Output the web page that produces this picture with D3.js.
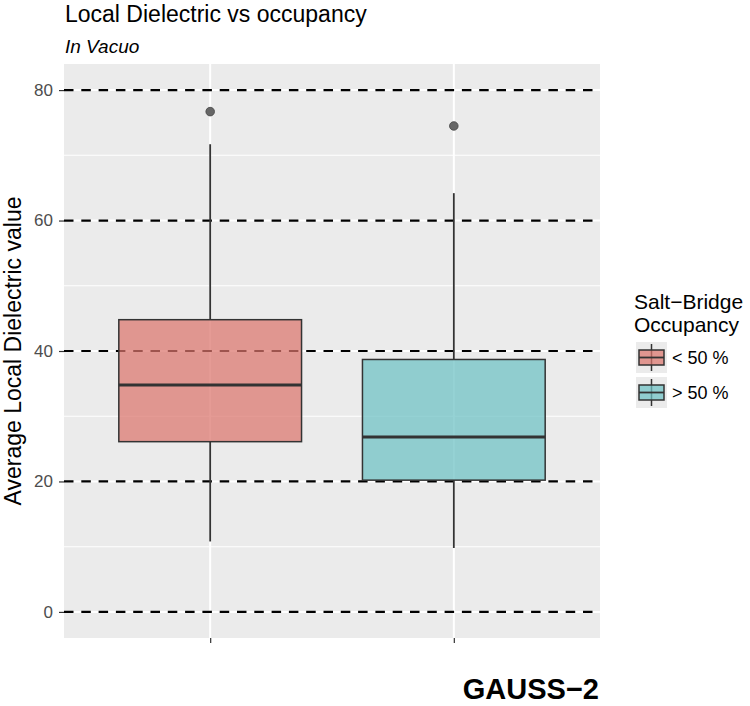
<!DOCTYPE html>
<html>
<head>
<meta charset="utf-8">
<script src="https://cdn.jsdelivr.net/npm/d3@7/dist/d3.min.js"></script>
<style>
  body { margin: 0; background: #ffffff; }
  svg { display: block; font-family: "Liberation Sans", Arial, Helvetica, sans-serif; }
</style>
</head>
<body>
<svg id="chart" width="750" height="706"></svg>
<script>
// ---- data ----
var groups = ["< 50 %", "> 50 %"];
var lowerWhisker = [10.8, 9.8];
var q1 = [26.1, 20.2];
var median = [34.8, 26.8];
var q3 = [44.8, 38.7];
var upperWhisker = [71.7, 64.2];
var outliers = [[76.7], [74.5]];
var hlines = [0, 20, 40, 60, 80];
var yTicks = [0, 20, 40, 60, 80];
var yMinor = [10, 30, 50, 70];
var fills = ["#db746c", "#6cc0c4"];

var width = 750, height = 706;
var panel = { left: 64, right: 600, top: 64, bottom: 638 };

var svg = d3.select("#chart");

var y = d3.scaleLinear().domain([-4, 84]).range([panel.bottom, panel.top]);
var x = d3.scalePoint().domain(groups).range([panel.left, panel.right]).padding(0.6);
var boxW = x.step() * 0.75;

// panel background
svg.append("rect")
    .attr("x", panel.left).attr("y", panel.top)
    .attr("width", panel.right - panel.left)
    .attr("height", panel.bottom - panel.top)
    .attr("fill", "#ebebeb");

var grid = svg.append("g").attr("class", "grid");

grid.selectAll("line.minor")
    .data(yMinor)
  .enter().append("line")
    .attr("class", "minor")
    .attr("x1", panel.left).attr("x2", panel.right)
    .attr("y1", function(d) { return y(d); })
    .attr("y2", function(d) { return y(d); })
    .style("stroke", "#ffffff").style("stroke-width", 1.1);

grid.selectAll("line.majorY")
    .data(yTicks)
  .enter().append("line")
    .attr("class", "majorY")
    .attr("x1", panel.left).attr("x2", panel.right)
    .attr("y1", function(d) { return y(d); })
    .attr("y2", function(d) { return y(d); })
    .style("stroke", "#ffffff").style("stroke-width", 2);

grid.selectAll("line.majorX")
    .data(groups)
  .enter().append("line")
    .attr("class", "majorX")
    .attr("y1", panel.top).attr("y2", panel.bottom)
    .attr("x1", function(d) { return x(d); })
    .attr("x2", function(d) { return x(d); })
    .style("stroke", "#ffffff").style("stroke-width", 2);

// dashed reference lines
svg.append("g").selectAll("line")
    .data(hlines)
  .enter().append("line")
    .attr("x1", panel.left).attr("x2", panel.right)
    .attr("y1", function(d) { return y(d); })
    .attr("y2", function(d) { return y(d); })
    .style("stroke", "#000000")
    .style("stroke-width", 2.2)
    .style("stroke-dasharray", "9.5,7.8");

// boxplots
var boxes = svg.append("g").selectAll("g.box")
    .data(groups)
  .enter().append("g")
    .attr("class", "box");

boxes.append("line")
    .attr("x1", function(d) { return x(d); })
    .attr("x2", function(d) { return x(d); })
    .attr("y1", function(d, i) { return y(upperWhisker[i]); })
    .attr("y2", function(d, i) { return y(q3[i]); })
    .style("stroke", "#333333").style("stroke-width", 1.8);

boxes.append("line")
    .attr("x1", function(d) { return x(d); })
    .attr("x2", function(d) { return x(d); })
    .attr("y1", function(d, i) { return y(q1[i]); })
    .attr("y2", function(d, i) { return y(lowerWhisker[i]); })
    .style("stroke", "#333333").style("stroke-width", 1.8);

boxes.append("rect")
    .attr("x", function(d) { return x(d) - boxW / 2; })
    .attr("width", boxW)
    .attr("y", function(d, i) { return y(q3[i]); })
    .attr("height", function(d, i) { return y(q1[i]) - y(q3[i]); })
    .style("fill", function(d, i) { return fills[i]; })
    .style("fill-opacity", 0.72)
    .style("stroke", "#333333")
    .style("stroke-width", 1.5);

boxes.append("line")
    .attr("x1", function(d) { return x(d) - boxW / 2; })
    .attr("x2", function(d) { return x(d) + boxW / 2; })
    .attr("y1", function(d, i) { return y(median[i]); })
    .attr("y2", function(d, i) { return y(median[i]); })
    .style("stroke", "#333333").style("stroke-width", 3);

boxes.selectAll("circle")
    .data(function(d, i) { return outliers[i].map(function(v) { return { g: d, v: v }; }); })
  .enter().append("circle")
    .attr("cx", function(d) { return x(d.g); })
    .attr("cy", function(d) { return y(d.v); })
    .attr("r", 4.3)
    .style("fill", "#666666")
    .style("stroke", "#444444")
    .style("stroke-width", 0.8);

// axes
var yAxis = svg.append("g")
    .attr("transform", "translate(" + panel.left + ",0)")
    .call(d3.axisLeft(y).tickValues(yTicks).tickSize(5).tickPadding(6));
yAxis.select(".domain").remove();
yAxis.selectAll(".tick line").style("stroke", "#333333").style("stroke-width", 1.2);
yAxis.selectAll(".tick text")
    .style("fill", "#4d4d4d")
    .style("font-size", "17px")
    .style("font-family", "Liberation Sans, Arial, sans-serif");

var xAxis = svg.append("g")
    .attr("transform", "translate(0," + panel.bottom + ")")
    .call(d3.axisBottom(x).tickSize(5).tickFormat(""));
xAxis.select(".domain").remove();
xAxis.selectAll(".tick line").style("stroke", "#333333").style("stroke-width", 1.2);

// titles
svg.append("text")
    .attr("x", 65).attr("y", 22)
    .style("font-size", "23px")
    .text("Local Dielectric vs occupancy");

svg.append("text")
    .attr("x", 65).attr("y", 53)
    .style("font-size", "19px")
    .style("font-style", "italic")
    .text("In Vacuo");

svg.append("text")
    .attr("transform", "translate(21," + ((panel.top + panel.bottom) / 2) + ") rotate(-90)")
    .attr("text-anchor", "middle")
    .style("font-size", "23px")
    .text("Average Local Dielectric value");

svg.append("text")
    .attr("x", panel.right - 1).attr("y", 699)
    .attr("text-anchor", "end")
    .style("font-size", "29px")
    .style("font-weight", "bold")
    .text("GAUSS\u22122");

// legend
var legend = svg.append("g").attr("transform", "translate(634,0)");

legend.append("text")
    .attr("x", 0).attr("y", 309)
    .style("font-size", "21px")
    .text("Salt\u2212Bridge");
legend.append("text")
    .attr("x", 0).attr("y", 332)
    .style("font-size", "21px")
    .text("Occupancy");

var keySize = 31;
var keys = legend.selectAll("g.key")
    .data(groups)
  .enter().append("g")
    .attr("class", "key")
    .attr("transform", function(d, i) { return "translate(2," + (342 + i * 35) + ")"; });

keys.append("rect")
    .attr("width", keySize).attr("height", keySize)
    .style("fill", "#ebebeb");

keys.append("line")
    .attr("x1", keySize / 2).attr("x2", keySize / 2)
    .attr("y1", 2).attr("y2", keySize - 2)
    .style("stroke", "#333333").style("stroke-width", 1.5);

keys.append("rect")
    .attr("x", 3).attr("y", 8)
    .attr("width", keySize - 6).attr("height", keySize - 16)
    .style("fill", function(d, i) { return fills[i]; })
    .style("fill-opacity", 0.72)
    .style("stroke", "#333333")
    .style("stroke-width", 1.5);

keys.append("line")
    .attr("x1", 3).attr("x2", keySize - 3)
    .attr("y1", keySize / 2).attr("y2", keySize / 2)
    .style("stroke", "#333333").style("stroke-width", 1.8);

keys.append("text")
    .attr("x", keySize + 5)
    .attr("y", keySize / 2)
    .attr("dy", "0.35em")
    .style("font-size", "18px")
    .text(function(d) { return d; });
</script>
</body>
</html>
